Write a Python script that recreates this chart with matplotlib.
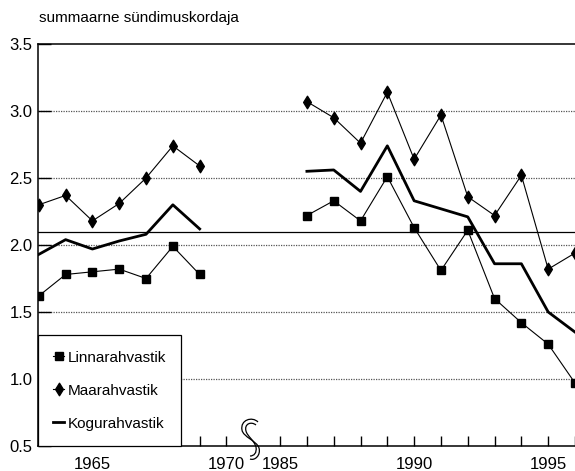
import matplotlib
matplotlib.use("Agg")
import matplotlib.pyplot as plt
import numpy as np
from matplotlib.path import Path
from matplotlib.patches import PathPatch

plt.rcParams['font.family'] = ['Liberation Sans', 'DejaVu Sans']

# ---- data ----
years_early = [1963, 1964, 1965, 1966, 1967, 1968, 1969]
years_late = [1986, 1987, 1988, 1989, 1990, 1991, 1992, 1993, 1994, 1995, 1996]

linna_early = [1.62, 1.78, 1.80, 1.82, 1.75, 1.99, 1.78]
maa_early = [2.30, 2.37, 2.18, 2.31, 2.50, 2.74, 2.59]
kogu_early = [1.93, 2.04, 1.97, 2.03, 2.08, 2.30, 2.12]

linna_late = [2.22, 2.33, 2.18, 2.51, 2.13, 1.81, 2.11, 1.60, 1.42, 1.26, 0.97]
maa_late = [3.07, 2.95, 2.76, 3.14, 2.64, 2.97, 2.36, 2.22, 2.52, 1.82, 1.94]
kogu_late = [2.55, 2.56, 2.40, 2.74, 2.33, 2.27, 2.21, 1.86, 1.86, 1.50, 1.35]

tick_labels = {1965: '1965', 1970: '1970', 1985: '1985', 1990: '1990', 1995: '1995'}
series_names = ['Linnarahvastik', 'Maarahvastik', 'Kogurahvastik']
ylabel = 'summaarne sündimuskordaja'
replacement_level = 2.1


def pos(y):
    return y - 1963 if y <= 1970 else y - 1976


W, H = 575, 471
fig = plt.figure(figsize=(W / 100, H / 100), dpi=100)
ax = fig.add_axes([38 / W, 25 / H, (W - 38) / W, (446 - 44) / H])

xe = [pos(y) for y in years_early]
xl = [pos(y) for y in years_late]

for yv in [3.0, 2.5, 2.0, 1.5, 1.0]:
    ax.axhline(yv, color='#555555', lw=0.9, ls=(0, (1, 1)), zorder=1)
ax.axhline(replacement_level, color='black', lw=0.9, zorder=1)

thin_diamond = Path([(0, 1), (0.62, 0), (0, -1), (-0.62, 0), (0, 1)],
                    [Path.MOVETO, Path.LINETO, Path.LINETO, Path.LINETO, Path.CLOSEPOLY])

sq = dict(color='black', lw=0.8, marker='s', ms=5.8, zorder=3)
dm = dict(color='black', lw=0.8, marker=thin_diamond, ms=9, zorder=3)
kg = dict(color='black', lw=2.0, zorder=3)

l1, = ax.plot(xe, linna_early, **sq, label=series_names[0])
ax.plot(xl, linna_late, **sq)
l2, = ax.plot(xe, maa_early, **dm, label=series_names[1])
ax.plot(xl, maa_late, **dm)
l3, = ax.plot(xe, kogu_early, **kg, label=series_names[2])
ax.plot(xl, kogu_late, **kg)

ax.set_xlim(-0.03, (W - 38.7) / 27.2)
ax.set_ylim(0.5, 3.5)

ax.spines['right'].set_visible(False)
for s in ['left', 'top', 'bottom']:
    ax.spines[s].set_linewidth(1.1)

ax.set_yticks([0.5, 1.0, 1.5, 2.0, 2.5, 3.0, 3.5])
ax.set_yticklabels(['0.5', '1.0', '1.5', '2.0', '2.5', '3.0', '3.5'], fontsize=12)
ax.tick_params(axis='y', direction='in', length=9, width=1, pad=4)

major = [pos(y) for y in tick_labels]
ax.set_xticks(major)
ax.set_xticklabels(list(tick_labels.values()), fontsize=12)
minor = [p for p in range(0, 21) if p != 8 and p not in major]
ax.set_xticks(minor, minor=True)
ax.tick_params(axis='x', which='both', direction='in', length=7, width=1, pad=8)

fig.text(39 / W, 1 - 18 / H, ylabel, fontsize=11, va='center', ha='left')

leg = ax.legend(handles=[l1, l2, l3], loc='lower left', bbox_to_anchor=(0, 0),
                frameon=True, fancybox=False, framealpha=1, edgecolor='black',
                fontsize=11, handlelength=0.7, handletextpad=0.25,
                borderpad=1.0, labelspacing=1.25, borderaxespad=0)
leg.get_frame().set_linewidth(0.9)
leg.set_zorder(5)

# axis break squiggle (decoration in pixel coordinates)
c4 = [Path.MOVETO] + [Path.CURVE4] * 9
outer = [(258, 422), (252, 416), (240, 420), (242, 430),
         (243, 437), (257, 441), (259, 448),
         (261, 455), (255, 461), (250, 459)]
inner = [(256, 425), (251, 421), (244, 424), (246, 431),
         (247, 436), (254, 440), (256, 447),
         (257, 453), (254, 456), (250, 456)]
for vv in (outer, inner):
    v = [(x, H - y) for x, y in vv]
    p = PathPatch(Path(v, c4), fill=False, lw=0.9, color='black', transform=None, zorder=10)
    fig.add_artist(p)

fig.savefig('out.png', dpi=100)
